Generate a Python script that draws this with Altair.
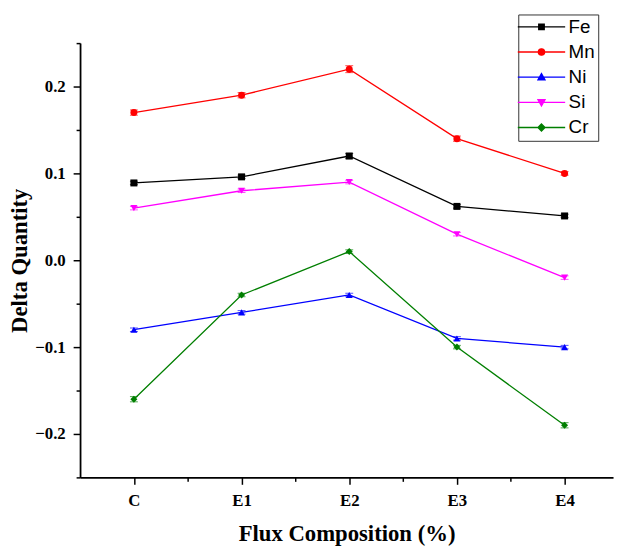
import altair as alt
import pandas as pd

categories = ["C", "E1", "E2", "E3", "E4"]
elements = ["Fe", "Mn", "Ni", "Si", "Cr"]

fe = [0.089, 0.096, 0.120, 0.062, 0.051]
mn = [0.170, 0.190, 0.220, 0.140, 0.100]
ni = [-0.080, -0.060, -0.040, -0.090, -0.100]
si = [0.060, 0.080, 0.090, 0.030, -0.020]
cr = [-0.160, -0.040, 0.010, -0.100, -0.190]

fe_err = [0.002, 0.002, 0.003, 0.002, 0.002]
mn_err = [0.003, 0.003, 0.004, 0.003, 0.002]
ni_err = [0.002, 0.002, 0.002, 0.002, 0.002]
si_err = [0.002, 0.002, 0.002, 0.002, 0.002]
cr_err = [0.003, 0.002, 0.002, 0.002, 0.003]

colors = ["#000000", "#FF0000", "#0000FF", "#FF00FF", "#007F00"]
shapes = ["square", "circle", "triangle-up", "triangle-down", "diamond"]
legend_paths = [
    "M-3,0H3M-0.35,-0.35H0.35V0.35H-0.35Z",
    "M-3,0H3M0.4,0A0.4,0.4 0 1,1 -0.4,0A0.4,0.4 0 1,1 0.4,0Z",
    "M-3,0H3M0,-0.45L0.45,0.35L-0.45,0.35Z",
    "M-3,0H3M0,0.45L0.45,-0.35L-0.45,-0.35Z",
    "M-3,0H3M0,-0.45L0.45,0L0,0.45L-0.45,0Z",
]

x_ticks = [0, 0.5, 1, 1.5, 2, 2.5, 3, 3.5, 4]
y_ticks = [-0.25, -0.2, -0.15, -0.1, -0.05, 0.0, 0.05, 0.1, 0.15, 0.2, 0.25]

series = {"Fe": (fe, fe_err), "Mn": (mn, mn_err), "Ni": (ni, ni_err),
          "Si": (si, si_err), "Cr": (cr, cr_err)}
rows = []
for el in elements:
    vals, errs = series[el]
    for i, (v, e) in enumerate(zip(vals, errs)):
        rows.append({"idx": i, "cat": categories[i], "Element": el,
                     "value": v, "lo": v - e, "hi": v + e})
df = pd.DataFrame(rows)

serif = "Liberation Serif"
cat_js = "[" + ",".join(f"'{c}'" for c in categories) + "]"
major_y = "abs(datum.value*10 - round(datum.value*10)) < 1e-6"
major_x = "datum.value % 1 == 0"

x_axis = alt.Axis(
    values=x_ticks, title="Flux Composition (%)",
    labelExpr=f"{major_x} ? {cat_js}[datum.value] : ''",
    labelFont=serif, labelFontSize=17, labelFontWeight="bold", labelColor="black",
    titleFont=serif, titleFontSize=23, titleFontWeight="bold", titleColor="black",
    titlePadding=15, labelPadding=8,
    tickSize={"condition": {"test": major_x, "value": 7}, "value": 4},
    tickWidth=1.5, tickColor="black",
    domainColor="black", domainWidth=1.8, grid=False, labelOverlap=False,
)
y_axis = alt.Axis(
    values=y_ticks, title="Delta Quantity",
    labelExpr=f"{major_y} ? format(datum.value, '.1f') : ''",
    labelFont=serif, labelFontSize=17, labelFontWeight="bold", labelColor="black",
    titleFont=serif, titleFontSize=23, titleFontWeight="bold", titleColor="black",
    titlePadding=3, labelPadding=8,
    tickSize={"condition": {"test": major_y, "value": 7}, "value": 4},
    tickWidth=1.5, tickColor="black",
    domainColor="black", domainWidth=1.8, grid=False, labelOverlap=False,
)

xs = alt.Scale(domain=[-0.5, 4.45], nice=False, zero=False)
ys = alt.Scale(domain=[-0.25, 0.25], nice=False, zero=False)
cs = alt.Scale(domain=elements, range=colors)

legend = alt.Legend(
    orient="none", legendX=444, legendY=-29, title=None,
    labelFont="Liberation Sans", labelFontSize=19, labelColor="black",
    symbolSize=256, symbolOffset=11, labelOffset=18, rowPadding=5.5,
    padding=3, strokeColor="#333333", fillColor="white",
    symbolStrokeWidth=1.3, symbolOpacity=1,
)

X = alt.X("idx:Q", scale=xs, axis=x_axis)
C0 = alt.Color("Element:N", scale=cs, legend=None)

base = alt.Chart(df)

legend_layer = base.mark_point(filled=True, size=0, opacity=1, strokeWidth=0).encode(
    x=X, y=alt.Y("value:Q", scale=ys, axis=y_axis),
    color=alt.Color("Element:N", scale=cs, legend=legend),
    stroke=alt.Stroke("Element:N", scale=alt.Scale(domain=elements, range=colors), legend=legend),
    shape=alt.Shape("Element:N", scale=alt.Scale(domain=elements, range=legend_paths), legend=legend),
)
lines = base.mark_line(strokeWidth=1.3).encode(
    x=X, y=alt.Y("value:Q", scale=ys, axis=y_axis), color=C0, detail="Element:N",
)
bars = base.mark_rule(strokeWidth=1).encode(
    x=X, y=alt.Y("lo:Q", scale=ys, axis=y_axis), y2="hi:Q", color=C0,
)
cap_lo = base.mark_tick(orient="horizontal", size=8, thickness=1).encode(
    x=X, y=alt.Y("lo:Q", scale=ys, axis=y_axis), color=C0,
)
cap_hi = base.mark_tick(orient="horizontal", size=8, thickness=1).encode(
    x=X, y=alt.Y("hi:Q", scale=ys, axis=y_axis), color=C0,
)
point_layers = [
    base.transform_filter(alt.datum.Element == el)
    .mark_point(filled=True, size=50, opacity=1, shape=shp)
    .encode(x=X, y=alt.Y("value:Q", scale=ys, axis=y_axis), color=C0)
    for el, shp in zip(elements, shapes)
]

chart = alt.layer(legend_layer, lines, bars, cap_lo, cap_hi, *point_layers).properties(
    width=540, height=440,
    autosize=alt.AutoSizeParams(type="none"),
    padding={"left": 73, "top": 32, "right": 3, "bottom": 70},
    background="white",
).configure_view(stroke=None)

chart.save("out.html", embed_options={"renderer": "svg", "actions": False})
